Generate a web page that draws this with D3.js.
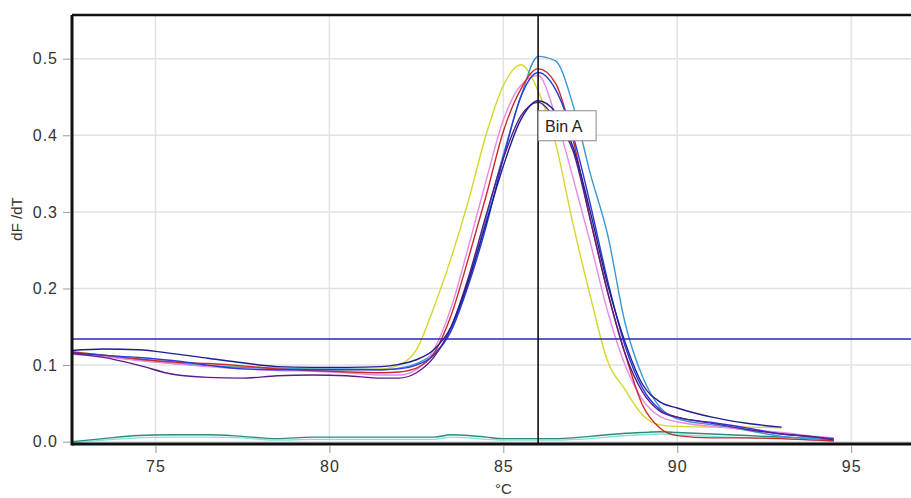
<!DOCTYPE html>
<html>
<head>
<meta charset="utf-8">
<script src="https://cdn.jsdelivr.net/npm/d3@7"></script>
<style>
  body { margin: 0; background: #fff; }
  svg { display: block; font-family: "Liberation Sans", Arial, sans-serif; }
  .tick text { fill: #333; font-size: 16px; letter-spacing: 1px; }
  .tick line { stroke: #999; }
  .grid line { stroke: #e2e2e2; stroke-width: 1.5; }
  .curve { fill: none; stroke-width: 1.4; stroke-linejoin: round; }
</style>
</head>
<body>
<svg></svg>
<script>
var width = 911, height = 498;
var padding = { top: 15, right: 0, bottom: 54, left: 72 };

// temperature grid (°C) shared by all the melt curves
var temps = [72.6, 73.5, 74.5, 75.5, 76.5, 77.5, 78.5, 79.5, 80.5, 81.5, 82, 82.5, 83, 83.5,
  84, 84.5, 85, 85.5, 86, 86.5, 87, 87.5, 88, 88.5, 89, 89.5, 90, 91, 92, 93, 94, 94.5];

var yellow = [0.118, 0.113, 0.108, 0.103, 0.100, 0.098, 0.096, 0.095, 0.094, 0.095, 0.100, 0.120, 0.175, 0.240,
  0.315, 0.400, 0.465, 0.492, 0.458, 0.390, 0.285, 0.190, 0.105, 0.068, 0.035, 0.022, 0.020, 0.019, 0.019, 0.018, null, null];
var lightBlue = [0.116, 0.112, 0.107, 0.102, 0.099, 0.097, 0.096, 0.095, 0.095, 0.094, 0.096, 0.102, 0.115, 0.145,
  0.210, 0.290, 0.375, 0.450, 0.503, 0.497, 0.440, 0.350, 0.270, 0.155, 0.085, 0.045, 0.030, 0.022, 0.015, 0.007, 0.004, 0.003];
var red = [0.117, 0.113, 0.108, 0.104, 0.102, 0.099, 0.095, 0.093, 0.091, 0.090, 0.091, 0.096, 0.115, 0.165,
  0.240, 0.320, 0.405, 0.460, 0.487, 0.468, 0.395, 0.290, 0.195, 0.115, 0.048, 0.018, 0.008, 0.005, 0.005, 0.004, 0.002, 0.001];
var pink = [0.114, 0.111, 0.106, 0.102, 0.098, 0.095, 0.093, 0.092, 0.090, 0.087, 0.087, 0.094, 0.120, 0.175,
  0.255, 0.340, 0.420, 0.465, 0.478, 0.425, 0.345, 0.260, 0.170, 0.100, 0.055, 0.033, 0.026, 0.020, 0.016, 0.012, 0.007, 0.005];
var blue = [0.116, 0.113, 0.110, 0.106, 0.100, 0.095, 0.094, 0.094, 0.094, 0.094, 0.095, 0.100, 0.113, 0.145,
  0.205, 0.280, 0.370, 0.450, 0.482, 0.460, 0.400, 0.310, 0.210, 0.125, 0.070, 0.042, 0.032, 0.025, 0.018, 0.010, 0.006, 0.004];
var purple = [0.115, 0.110, 0.100, 0.088, 0.084, 0.083, 0.086, 0.087, 0.086, 0.083, 0.083, 0.090, 0.110, 0.150,
  0.215, 0.295, 0.370, 0.425, 0.443, 0.420, 0.380, 0.290, 0.195, 0.115, 0.065, 0.040, 0.032, 0.024, 0.016, 0.010, 0.006, 0.002];
var navy = [0.119, 0.121, 0.120, 0.115, 0.109, 0.103, 0.098, 0.097, 0.097, 0.098, 0.101, 0.107, 0.120, 0.150,
  0.210, 0.285, 0.360, 0.420, 0.445, 0.430, 0.385, 0.300, 0.205, 0.130, 0.075, 0.052, 0.044, 0.032, 0.024, 0.019, null, null];
var teal = [0.000, 0.004, 0.008, 0.009, 0.009, 0.007, 0.004, 0.006, 0.006, 0.006, 0.006, 0.006, 0.006, 0.009,
  0.008, 0.006, 0.004, 0.004, 0.004, 0.004, 0.005, 0.007, 0.009, 0.011, 0.012, 0.013, 0.012, 0.010, 0.008, 0.006, 0.004, 0.003];
var cyan = [-0.002, 0.002, 0.005, 0.006, 0.006, 0.005, 0.002, 0.003, 0.003, 0.003, 0.003, 0.003, 0.003, 0.006,
  0.005, 0.003, 0.002, 0.002, 0.002, 0.002, 0.003, 0.004, 0.006, 0.008, 0.009, 0.010, 0.009, 0.007, 0.005, 0.004, 0.002, 0.001];

var seriesNames = ["cyan", "teal", "yellow", "lightBlue", "pink", "red", "blue", "purple", "navy"];
var seriesValues = [cyan, teal, yellow, lightBlue, pink, red, blue, purple, navy];
var seriesColors = ["#7fe3e3", "#2f8a78", "#d6d62a", "#3a96d8", "#e68ae6", "#cc2a2a", "#2a3ad6", "#5a1c8c", "#1e1e8e"];

var xTicks = [75, 80, 85, 90, 95];
var yTicks = [0.0, 0.1, 0.2, 0.3, 0.4, 0.5];
var threshold = 0.134;
var markerTemp = 86.0;
var markerLabel = "Bin A";

var svg = d3.select("svg")
  .attr("width", width)
  .attr("height", height);

var xScale = d3.scaleLinear()
  .domain([72.6, 96.72])
  .range([padding.left, width - padding.right]);

var yScale = d3.scaleLinear()
  .domain([-0.003, 0.557])
  .range([height - padding.bottom, padding.top]);

var plotW = width - padding.right - padding.left;
var plotH = height - padding.bottom - padding.top;

svg.append("clipPath")
  .attr("id", "plot-clip")
  .append("rect")
  .attr("x", padding.left)
  .attr("y", padding.top)
  .attr("width", plotW)
  .attr("height", plotH);

// grid
svg.append("g")
  .classed("grid", true)
  .selectAll("line.gx")
  .data(xTicks)
  .enter()
  .append("line")
  .attr("x1", d => xScale(d)).attr("x2", d => xScale(d))
  .attr("y1", padding.top).attr("y2", height - padding.bottom);

svg.select(".grid")
  .selectAll("line.gy")
  .data(yTicks)
  .enter()
  .append("line")
  .attr("x1", padding.left).attr("x2", width - padding.right)
  .attr("y1", d => yScale(d)).attr("y2", d => yScale(d));

// axes
var yAxis = svg.append("g")
  .attr("transform", "translate(" + (padding.left - 2) + ", 0)")
  .call(d3.axisLeft(yScale).tickValues(yTicks).tickFormat(d3.format(".1f")).tickSize(7).tickPadding(5));
yAxis.select(".domain").remove();

var xAxis = svg.append("g")
  .attr("transform", "translate(0, " + (height - padding.bottom + 2) + ")")
  .call(d3.axisBottom(xScale).tickValues(xTicks).tickFormat(d3.format("d")).tickSize(7).tickPadding(8));
xAxis.select(".domain").remove();

svg.append("text")
  .attr("x", xScale(85))
  .attr("y", 494)
  .attr("text-anchor", "middle")
  .style("font-size", "15px")
  .style("fill", "#333")
  .text("°C");

svg.append("text")
  .attr("transform", "translate(22, 219) rotate(-90)")
  .attr("text-anchor", "middle")
  .style("font-size", "15px")
  .style("fill", "#333")
  .text("dF /dT");

// curves
var plot = svg.append("g").attr("clip-path", "url(#plot-clip)");

var line = d3.line()
  .defined(d => d.v !== null)
  .x(d => xScale(d.t))
  .y(d => yScale(d.v))
  .curve(d3.curveMonotoneX);

plot.selectAll("path.curve")
  .data(seriesValues.map((vals, i) => ({
    name: seriesNames[i],
    color: seriesColors[i],
    points: temps.map((t, j) => ({ t: t, v: vals[j] }))
  })))
  .enter()
  .append("path")
  .classed("curve", true)
  .attr("stroke", d => d.color)
  .attr("d", d => line(d.points));

// threshold and marker lines
plot.append("line")
  .attr("x1", padding.left).attr("x2", width - padding.right)
  .attr("y1", yScale(threshold)).attr("y2", yScale(threshold))
  .attr("stroke", "#2a2aaa")
  .attr("stroke-width", 1.6);

plot.append("line")
  .attr("x1", xScale(markerTemp)).attr("x2", xScale(markerTemp))
  .attr("y1", padding.top).attr("y2", height - padding.bottom)
  .attr("stroke", "#111")
  .attr("stroke-width", 1.6);

var labelG = svg.append("g")
  .attr("transform", "translate(" + xScale(markerTemp) + ", " + yScale(0.432) + ")");
labelG.append("rect")
  .attr("width", 58).attr("height", 30)
  .attr("fill", "#fff")
  .attr("stroke", "#888");
labelG.append("text")
  .attr("x", 7).attr("y", 21)
  .style("font-size", "16px")
  .style("fill", "#222")
  .text(markerLabel);

// frame: left, top and bottom edges only
var frame = svg.append("g").attr("stroke", "#111").attr("stroke-width", 3);
frame.append("line")
  .attr("x1", padding.left).attr("x2", padding.left)
  .attr("y1", padding.top).attr("y2", height - padding.bottom + 1.5);
frame.append("line")
  .attr("x1", padding.left).attr("x2", width)
  .attr("y1", padding.top).attr("y2", padding.top)
  .attr("stroke-width", 2.5);
frame.append("line")
  .attr("x1", padding.left).attr("x2", width)
  .attr("y1", height - padding.bottom).attr("y2", height - padding.bottom);
</script>
</body>
</html>
